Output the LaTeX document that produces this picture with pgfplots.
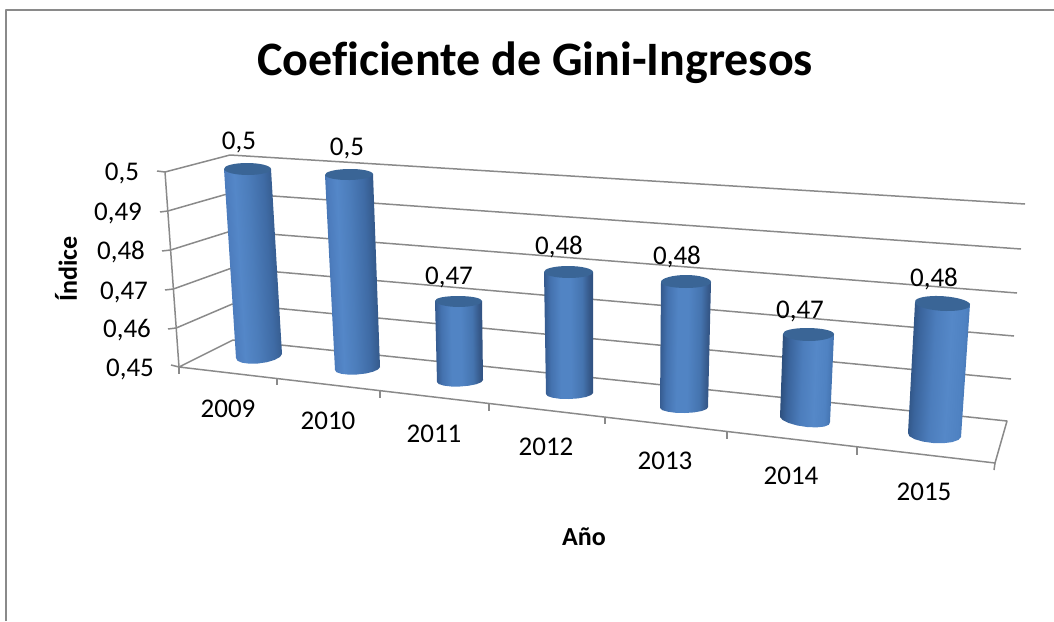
\documentclass[border=0pt]{standalone}
\usepackage{pgfplots}
\pgfplotsset{compat=1.18}
\usepackage{fontspec}
\setmainfont{Carlito}
\definecolor{gridc}{HTML}{8A8A8A}
\definecolor{captop}{HTML}{3A6596}
\definecolor{Aa}{HTML}{3C68A3}\definecolor{Ab}{HTML}{4D7DBE}\definecolor{Ac}{HTML}{5487C8}\definecolor{Ad}{HTML}{4C7DBB}\definecolor{Ae}{HTML}{3F6BA5}\definecolor{Af}{HTML}{34598A}\definecolor{Ag}{HTML}{2C4A72}
\definecolor{Ba}{HTML}{33578A}\definecolor{Bb}{HTML}{4472AF}\definecolor{Bc}{HTML}{5184C4}\definecolor{Bd}{HTML}{4574AF}\definecolor{Be}{HTML}{36598A}\definecolor{Bf}{HTML}{2F5080}
\definecolor{Ca}{HTML}{2A4A75}\definecolor{Cb}{HTML}{3A649C}\definecolor{Cc}{HTML}{4C7DBC}\definecolor{Cd}{HTML}{5588C8}\definecolor{Ce}{HTML}{4F82C2}\definecolor{Cf}{HTML}{3F6DA8}
\pgfdeclarehorizontalshading{cylA}{100bp}{color(0bp)=(Aa);color(25bp)=(Aa);color(33bp)=(Ab);color(40bp)=(Ac);color(50bp)=(Ad);color(62bp)=(Ae);color(70bp)=(Af);color(75bp)=(Ag);color(100bp)=(Ag)}
\pgfdeclarehorizontalshading{cylB}{100bp}{color(0bp)=(Ba);color(25bp)=(Ba);color(32bp)=(Bb);color(42bp)=(Bc);color(52bp)=(Bc);color(64bp)=(Bd);color(71bp)=(Be);color(75bp)=(Bf);color(100bp)=(Bf)}
\pgfdeclarehorizontalshading{cylC}{100bp}{color(0bp)=(Ca);color(25bp)=(Ca);color(33bp)=(Cb);color(45bp)=(Cc);color(57bp)=(Cd);color(67bp)=(Ce);color(75bp)=(Cf);color(100bp)=(Cf)}
% #1 shading options, #2-#5 top cap L,T,R,B, #6 body outline from top left, round the base, to top right
\newcommand{\cyl}[6]{%
 \addplot[draw=none,shade,#1] coordinates {#6};
 \addplot[draw=none,fill=captop,smooth cycle,tension=1] coordinates {#2 #3 #4 #5};
}
\begin{document}
\begin{tikzpicture}[x=1pt,y=1pt]
\useasboundingbox (0,0) rectangle (1054,621);
\begin{axis}[at={(0,0)},anchor=south west,scale only axis,width=1054pt,height=621pt,
 xmin=0,xmax=1054,ymin=0,ymax=621,y dir=reverse,hide axis,clip=false,
 every axis plot/.append style={line join=round}]
% chart frame
\addplot[draw=gridc,line width=2pt] coordinates {(6,621)(6,10)(1054,10)};
% walls: gridlines
\addplot[draw=gridc,line width=1.5pt] coordinates {(165,172)(230,155)(1025,204)};
\addplot[draw=gridc,line width=1.5pt] coordinates {(167.8,211)(230.6,193)(1021,249)};
\addplot[draw=gridc,line width=1.5pt] coordinates {(170.6,250)(231.2,231)(1017,293)};
\addplot[draw=gridc,line width=1.5pt] coordinates {(173.4,289)(231.8,268)(1014,336)};
\addplot[draw=gridc,line width=1.5pt] coordinates {(176.2,328)(232.4,304)(1011,379)};
\addplot[draw=gridc,line width=1.5pt] coordinates {(179,367)(233,340)(1007,421)(995,463)(179,367)};
\addplot[draw=gridc,line width=1.5pt] coordinates {(165,172)(179,367)};
% ticks on value axis
\addplot[draw=gridc,line width=1.5pt] coordinates {(157,171)(165,172)};
\addplot[draw=gridc,line width=1.5pt] coordinates {(160,212)(167.8,211)};
\addplot[draw=gridc,line width=1.5pt] coordinates {(162,251)(170.6,250)};
\addplot[draw=gridc,line width=1.5pt] coordinates {(165,290)(173.4,289)};
\addplot[draw=gridc,line width=1.5pt] coordinates {(168,329)(176.2,328)};
\addplot[draw=gridc,line width=1.5pt] coordinates {(171,365)(179,367)};
% ticks on category axis
\addplot[draw=gridc,line width=1.5pt] coordinates {(179,367)(179,374)};
\addplot[draw=gridc,line width=1.5pt] coordinates {(277,378)(277,385)};
\addplot[draw=gridc,line width=1.5pt] coordinates {(380,391)(380,398)};
\addplot[draw=gridc,line width=1.5pt] coordinates {(489,404)(489,411)};
\addplot[draw=gridc,line width=1.5pt] coordinates {(605,418)(605,424)};
\addplot[draw=gridc,line width=1.5pt] coordinates {(727,432)(727,439)};
\addplot[draw=gridc,line width=1.5pt] coordinates {(857,447)(857,455)};
\addplot[draw=gridc,line width=1.5pt] coordinates {(995,463)(994,470)};
% cylinders
\cyl{shading=cylA,shading angle=3.5}{(224,169)}{(247,163)}{(271,169)}{(248,175)}
 {(224,169)(236,358)(237.4,360.7)(242,362.7)(249.3,363.7)(258,363.5)(266.9,362.2)(274.6,359.9)(279.9,357)(282,354)(271,169)}
\cyl{shading=cylA,shading angle=2.3}{(325,175)}{(348,169)}{(373,174)}{(350,180)}
 {(325,175)(335,370)(336.5,372.2)(341.2,373.8)(348.4,374.6)(357,374.5)(365.7,373.5)(373.1,371.7)(378.1,369.4)(380,367)(373,174)}
\cyl{shading=cylB,shading angle=1}{(435,301)}{(458,296)}{(482,301)}{(459,307)}
 {(435,301)(437,382)(438.7,384)(443.7,385.6)(451.2,386.5)(460,386.5)(468.8,385.7)(476.3,384.2)(481.3,382.2)(483,380)(482,301)}
\cyl{shading=cylB,shading angle=0.4}{(544,272)}{(568,266)}{(593,272)}{(569,278)}
 {(544,272)(546,394)(547.6,396.1)(552.5,397.7)(560,398.8)(569,399)(578,398.4)(585.8,397)(591,395.1)(593,393)(593,272)}
\cyl{shading=cylB,shading angle=-1}{(661,282)}{(686,275)}{(711,282)}{(686,288)}
 {(661,282)(660,408)(662.2,410.1)(667.7,411.7)(675.7,412.8)(685,413)(694.1,412.4)(701.7,411)(706.6,409.1)(708,407)(711,282)}
\cyl{shading=cylC,shading angle=-2.4}{(783,334)}{(807,328)}{(834,334)}{(809,341)}
 {(783,334)(780,417)(782.7,420.1)(788.7,423)(797.3,425.5)(807,427)(816.4,427.4)(824.1,426.6)(828.9,424.7)(830,422)(834,334)}
\cyl{shading=cylC,shading angle=-3.5}{(915,303)}{(938,296)}{(970,304)}{(946,311)}
 {(915,303)(908,433)(909.4,436.2)(914.7,439.2)(923,441.6)(933,443)(943.3,443.2)(952.2,442.1)(958.4,439.9)(961,437)(970,304)}
% data labels
\addplot[only marks,mark=none,point meta=explicit symbolic,nodes near coords,
 every node near coord/.style={anchor=center,font=\fontsize{27}{32}\selectfont,inner sep=0pt}]
 table[x=x,y=y,meta=v]{
x y v
239 142 0,5
347 148 0,5
449 277 0,47
559 247 0,48
677 257 0,48
800 311 0,47
934 279 0,48
};
% value axis labels
\addplot[only marks,mark=none,point meta=explicit symbolic,nodes near coords,
 every node near coord/.style={anchor=center,font=\fontsize{27}{32}\selectfont,inner sep=0pt}]
 table[x=x,y=y,meta=v]{
x y v
122 173 0,5
118 213 0,49
121 252 0,48
124 292 0,47
127 330 0,46
130 369 0,45
};
% category labels
\addplot[only marks,mark=none,point meta=explicit symbolic,nodes near coords,
 every node near coord/.style={anchor=center,font=\fontsize{27}{32}\selectfont,inner sep=0pt}]
 table[x=x,y=y,meta=v]{
x y v
228 409 2009
328 421 2010
434 434 2011
546 447 2012
665 461 2013
791 476 2014
924 492 2015
};
\node[font=\fontsize{48}{52}\selectfont\bfseries,anchor=center] at (axis cs:535,63) {Coef\kern0pt iciente de Gini-Ingresos};
\node[font=\fontsize{26}{30}\selectfont\bfseries,anchor=center,rotate=90] at (axis cs:66,269) {Índice};
\node[font=\fontsize{26}{30}\selectfont\bfseries,anchor=center] at (axis cs:584,537) {Año};
\end{axis}
\end{tikzpicture}
\end{document}
